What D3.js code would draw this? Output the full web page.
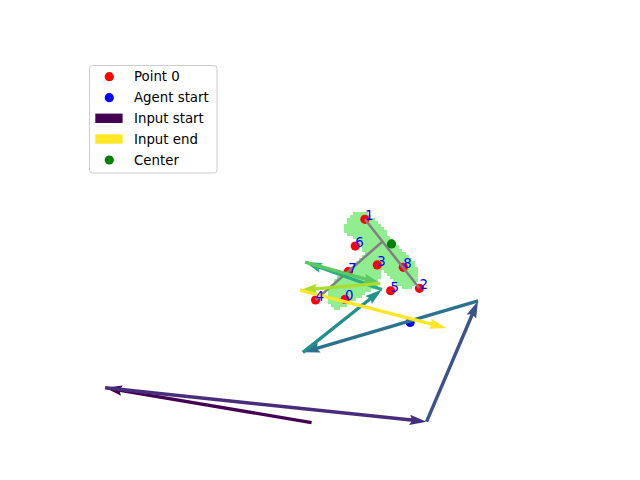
<!DOCTYPE html>
<html><head><meta charset="utf-8">
<script src="https://cdn.jsdelivr.net/npm/d3@7"></script>
<style>html,body{margin:0;padding:0;background:#fff;}svg{display:block;font-family:"DejaVu Sans",sans-serif;}</style>
</head><body>
<svg id="c" width="640" height="480"></svg>
<script>
// ---- data (axis units) ----
const pointIds = ["0","1","2","3","4","5","6","7","8"];
const pointX = [85.5, 91.9, 109.5, 95.9, 76.0, 100.2, 88.8, 86.5, 104.3];
const pointY = [41.5, 67.5, 45.1, 52.7, 41.3, 44.3, 58.8, 50.5, 51.9];
const centerXY = [100.5, 59.5];
const agentStartXY = [106.5, 34.0];
// input path (consecutive vertices, one arrow per step)
const inputX = [74.7, 8.1, 111.8, 128.4, 71.9, 97.4, 72.6, 96.9, 71.0, 118.2];
const inputY = [1.5, 12.8, 1.8, 41.0, 24.3, 44.7, 53.6, 46.7, 44.5, 32.2];
// skeleton segments
const skelFrom = [[91.9, 67.5], [76.0, 41.3]];
const skelTo   = [[109.5, 45.1], [97.6, 60.3]];
// outline of the shape mask
const maskOutline = [
 [89.4,70.2],[91.3,70.2],[93.5,69.2],[96.1,66.0],[98.7,63.4],[100.6,60.8],[102.9,58.2],
 [105.5,55.9],[107.7,53.6],[108.7,51.0],[108.7,46.8],[107.1,45.5],[104.5,45.2],[101.9,46.8],
 [99.4,49.4],[97.1,51.0],[96.5,48.4],[95.5,45.8],[92.9,43.9],[89.7,41.9],[86.5,40.0],
 [83.2,37.7],[81.6,38.4],[80.0,40.7],[79.7,43.6],[81.3,46.2],[83.9,49.1],[87.1,51.7],
 [89.7,54.6],[91.6,56.6],[90.6,59.2],[88.4,61.1],[86.1,62.7],[84.8,64.4],[85.2,66.0],[87.1,68.6]
];
const legendLabels = ["Point 0", "Agent start", "Input start", "Input end", "Center"];

// ---- scales ----
const x = d3.scaleLinear().domain([0, 160]).range([80, 576]);
const y = d3.scaleLinear().domain([0, 120]).range([427.2, 57.6]);
const svg = d3.select("#c");

// ---- mask cells ----
const cells = [];
const xr = d3.extent(maskOutline, d => d[0]), yr = d3.extent(maskOutline, d => d[1]);
for (let i = Math.floor(xr[0]); i <= Math.ceil(xr[1]); i++)
  for (let j = Math.floor(yr[0]); j <= Math.ceil(yr[1]); j++)
    if (d3.polygonContains(maskOutline, [i + 0.5, j + 0.5])) cells.push([i, j]);
svg.append("g").attr("shape-rendering", "crispEdges").selectAll("rect").data(cells).join("rect")
  .attr("x", d => x(d[0])).attr("y", d => y(d[1] + 1))
  .attr("width", d => x(d[0] + 1) - x(d[0])).attr("height", d => y(d[1]) - y(d[1] + 1))
  .attr("fill", "#90ee90");

// ---- points ----
svg.append("g").selectAll("circle").data(pointIds).join("circle")
  .attr("cx", (d, i) => x(pointX[i])).attr("cy", (d, i) => y(pointY[i])).attr("r", 4.6)
  .attr("fill", "red");
svg.append("circle").attr("cx", x(agentStartXY[0])).attr("cy", y(agentStartXY[1])).attr("r", 4.6).attr("fill", "blue");

// ---- skeleton ----
svg.append("g").selectAll("line").data(skelFrom).join("line")
  .attr("x1", d => x(d[0])).attr("y1", d => y(d[1]))
  .attr("x2", (d, i) => x(skelTo[i][0])).attr("y2", (d, i) => y(skelTo[i][1]))
  .attr("stroke", "gray").attr("stroke-width", 2.5);

svg.append("circle").attr("cx", x(centerXY[0])).attr("cy", y(centerXY[1])).attr("r", 4.6).attr("fill", "green");

// ---- arrows ----
const n = inputX.length - 1;
const w = 3.4, hl = 5 * w, hal = 4.5 * w, hw = 3 * w;
function arrowPoly(x0, y0, x1, y1) {
  const dx = x1 - x0, dy = y1 - y0, L = Math.hypot(dx, dy);
  const ux = dx / L, uy = dy / L, nx = -uy, ny = ux;
  const P = (a, b) => [x0 + ux * a + nx * b, y0 + uy * a + ny * b];
  return [P(0, -w / 2), P(L - hal, -w / 2), P(L - hl, -hw / 2), P(L, 0), P(L - hl, hw / 2), P(L - hal, w / 2), P(0, w / 2)];
}
const arrows = d3.range(n);
svg.append("g").selectAll("path").data(arrows).join("path")
  .attr("d", i => "M" + arrowPoly(x(inputX[i]), y(inputY[i]), x(inputX[i + 1]), y(inputY[i + 1])).map(p => p.join(",")).join("L") + "Z")
  .attr("fill", i => d3.interpolateViridis(i / (n - 1)));

// ---- labels ----
svg.append("g").selectAll("text").data(pointIds).join("text")
  .attr("x", (d, i) => x(pointX[i])).attr("y", (d, i) => y(pointY[i]) + 1)
  .attr("font-size", 13.33).attr("fill", "blue").text(d => d);

// ---- legend ----
const lg = svg.append("g");
lg.append("rect").attr("x", 89.5).attr("y", 65.5).attr("width", 127.5).attr("height", 107.5)
  .attr("rx", 3).attr("fill", "white").attr("fill-opacity", 0.8).attr("stroke", "#cccccc").attr("stroke-width", 1);
const rowY = [76.7, 97.7, 118.3, 139, 160];
const swatch = [
  {t: "c", c: "red"}, {t: "c", c: "blue"}, {t: "r", c: d3.interpolateViridis(0)},
  {t: "r", c: d3.interpolateViridis(1)}, {t: "c", c: "green"}
];
legendLabels.forEach((lab, i) => {
  const s = swatch[i];
  if (s.t === "c") lg.append("circle").attr("cx", 109.3).attr("cy", rowY[i]).attr("r", 4.6).attr("fill", s.c);
  else lg.append("rect").attr("x", 95.3).attr("y", rowY[i] - 4.7).attr("width", 27.3).attr("height", 9.4).attr("fill", s.c);
  lg.append("text").attr("x", 134).attr("y", rowY[i]).attr("dy", "0.36em").attr("font-size", 13.33).attr("fill", "#000").text(lab);
});
</script>
</body></html>
